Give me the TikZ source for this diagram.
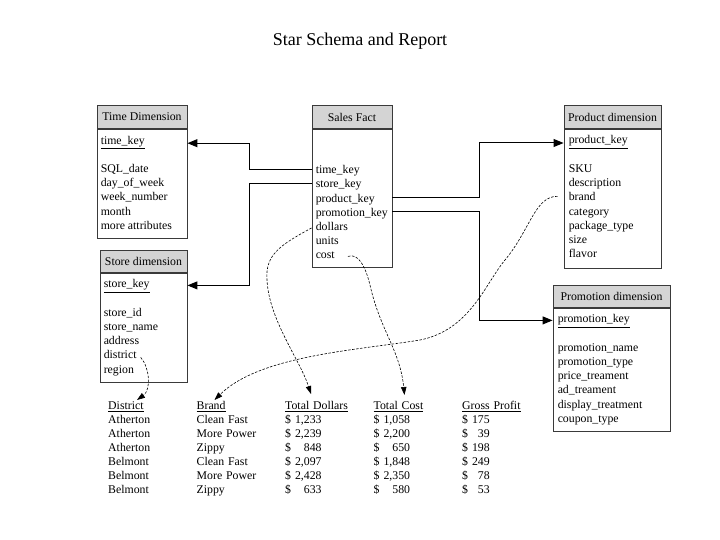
\documentclass[tikz,border=0pt]{standalone}
\usepackage{fontspec}
\setmainfont{Liberation Serif}
\usepackage{xcolor}
\usepackage{tikz}
\usetikzlibrary{positioning, arrows.meta, calc, matrix}
\definecolor{headgray}{HTML}{D4D4D4}
\definecolor{boxline}{HTML}{3A3A3A}
\newcommand{\usd}[2][2.25em]{\$\ \makebox[#1][r]{#2}}

\begin{document}
\begin{tikzpicture}[x=1pt, y=-1pt,
    font=\fontsize{11.8}{14.2}\selectfont,
    head/.style={draw=boxline, fill=headgray, line width=0.9pt, minimum height=22.5pt, inner sep=0pt},
    tablebody/.style={draw=boxline, fill=white, line width=0.9pt, inner sep=0pt},
    field/.style={anchor=base west, inner sep=0pt, text height=9.5pt, text depth=0.5pt},
    fk/.style={line width=1pt, -{Triangle[length=10pt, width=8pt]}},
    link/.style={line width=0.6pt, dash pattern=on 2.5pt off 1.5pt, -{Triangle[length=8pt, width=5.5pt]}}]
  \useasboundingbox (0,0) rectangle (720,540);

  \node[font=\fontsize{18}{20}\selectfont, anchor=base] (title) at (360,46) {Star Schema and Report};

  \node[head, minimum width=90pt] (timehead) at (142,117) {Time Dimension};
  \node[tablebody, minimum width=90pt, minimum height=109pt, below=0pt of timehead] (timebody) {};
  \foreach \f [count=\i] in {\underline{time\_key}, {}, SQL\_date, day\_of\_week, week\_number, month, more attributes}
    \node[field] (time\i) at ($(timebody.north west)+(4,{15.5+(\i-1)*14.2})$) {\f};

  \node[head, minimum width=80pt] (facthead) at (352,117) {Sales Fact};
  \node[tablebody, minimum width=80pt, minimum height=138pt, below=0pt of facthead] (factbody) {};
  \foreach \f [count=\i] in {time\_key, store\_key, product\_key, promotion\_key, dollars, units, cost}
    \node[field] (fact\i) at ($(factbody.north west)+(4,{45+(\i-1)*14.2})$) {\f};

  \node[head, minimum width=97pt] (prodhead) at (612.5,117) {Product dimension};
  \node[tablebody, minimum width=97pt, minimum height=139pt, below=0pt of prodhead] (prodbody) {};
  \foreach \f [count=\i] in {\underline{product\_key}, {}, SKU, description, brand, category, package\_type, size, flavor}
    \node[field] (prod\i) at ($(prodbody.north west)+(5,{15.3+(\i-1)*14.2})$) {\f};

  \node[head, minimum width=87pt] (storehead) at (143.5,261.5) {Store dimension};
  \node[tablebody, minimum width=87pt, minimum height=109pt, below=0pt of storehead] (storebody) {};
  \foreach \f [count=\i] in {\underline{store\_key}, {}, store\_id, store\_name, address, district, region}
    \node[field] (store\i) at ($(storebody.north west)+(4,{14.7+(\i-1)*14.2})$) {\f};

  \node[head, minimum width=117pt] (promohead) at (611.5,296.5) {Promotion dimension};
  \node[tablebody, minimum width=117pt, minimum height=123pt, below=0pt of promohead] (promobody) {};
  \foreach \f [count=\i] in {\underline{promotion\_key}, {}, promotion\_name, promotion\_type, price\_treament, ad\_treament, display\_treatment, coupon\_type}
    \node[field] (promo\i) at ($(promobody.north west)+(5,{14.7+(\i-1)*14.2})$) {\f};

  \matrix (report) [matrix of nodes, anchor=north west, inner sep=0pt, column sep=0pt, row sep=2pt,
      nodes={inner sep=0pt, text width=88.5pt, text height=9pt, text depth=3pt, align=left}] at (108,400) {
    \underline{District} & \underline{Brand} & \underline{Total Dollars} & \underline{Total Cost} & \underline{Gross Profit} \\
    Atherton & Clean Fast & \usd{1,233} & \usd{1,058} & \usd[1.5em]{175} \\
    Atherton & More Power & \usd{2,239} & \usd{2,200} & \usd[1.5em]{39} \\
    Atherton & Zippy & \usd{848} & \usd{650} & \usd[1.5em]{198} \\
    Belmont & Clean Fast & \usd{2,097} & \usd{1,848} & \usd[1.5em]{249} \\
    Belmont & More Power & \usd{2,428} & \usd{2,350} & \usd[1.5em]{78} \\
    Belmont & Zippy & \usd{633} & \usd{580} & \usd[1.5em]{53} \\
  };

  \coordinate (leftbus) at (249,0);
  \coordinate (rightbus) at (479,0);

  \draw[fk] (factbody.west |- fact1) -- (leftbus |- fact1) |- ($(timebody.east |- time1.base)+(0,-1)$);
  \draw[fk] (factbody.west |- fact2) -- (leftbus |- fact2) |- ($(storebody.east |- store1.base)+(0,-2.5)$);
  \draw[fk] (factbody.east |- fact3) -- (rightbus |- fact3) |- ($(prodbody.west |- prod1.base)+(0,-1)$);
  \draw[fk] (factbody.east |- fact4) -- (rightbus |- fact4) |- ($(promobody.west |- promo1.base)+(0,-2.5)$);

  \draw[link] ($(store6.east)+(4,3)$) .. controls (150,368) and (151,390) .. ($(report-1-1.north west)+(29,0)$);
  \draw[link] ($(prod5.west)+(-11,0)$) .. controls (535,196) and (530,230) .. (505,260)
    .. controls (485,284) and (470,330) .. (420,340)
    .. controls (360,350) and (260,355) .. ($(report-1-2.north west)+(18,0)$);
  \draw[link] ($(fact5.west)+(-4,2)$) .. controls (280,245) and (265,255) .. (267,280)
    .. controls (269,320) and (300,360) .. ($(report-1-3.north west)+(26,-6)$);
  \draw[link] ($(fact7.east)+(13,2)$) .. controls (358,253) and (365,265) .. (370,285)
    .. controls (380,330) and (400,350) .. ($(report-1-4.north west)+(31,-5)$);
\end{tikzpicture}
\end{document}
